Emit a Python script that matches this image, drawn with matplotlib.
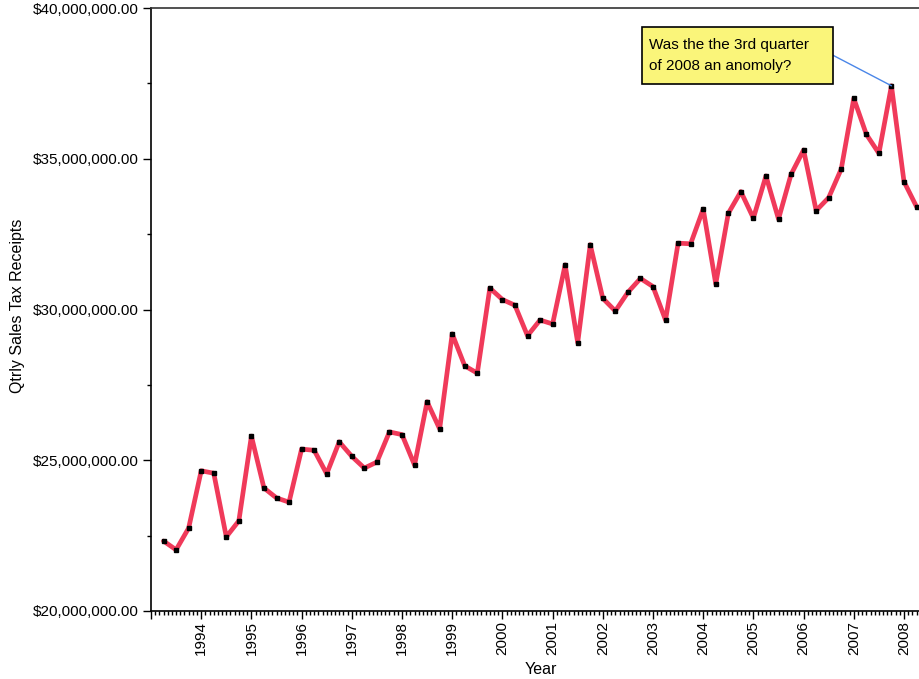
import matplotlib
matplotlib.use("Agg")
import matplotlib.pyplot as plt
import matplotlib.ticker as mticker
from matplotlib.patches import Rectangle
import numpy as np

plt.rcParams['font.family'] = ['Liberation Sans', 'DejaVu Sans']

# Quarterly sales tax receipts (millions of dollars), first quarter plotted at 1993.25
start_year = 1993.25
receipts_m = [
    22.32, 22.03, 22.75, 24.65, 24.57, 22.46, 22.99, 25.80, 24.08, 23.75,
    23.61, 25.37, 25.33, 24.55, 25.61, 25.13, 24.74, 24.94, 25.94, 25.85,
    24.84, 26.94, 26.04, 29.19, 28.13, 27.89, 30.71, 30.33, 30.14, 29.13,
    29.65, 29.52, 31.48, 28.90, 32.15, 30.37, 29.95, 30.57, 31.03, 30.76,
    29.65, 32.20, 32.18, 33.33, 30.85, 33.19, 33.91, 33.03, 34.43, 33.00,
    34.48, 35.29, 33.28, 33.71, 34.66, 37.00, 35.81, 35.18, 37.42, 34.24,
    33.41,
]
years = np.array([start_year + 0.25 * i for i in range(len(receipts_m))])
values = np.array(receipts_m) * 1e6
year_ticks = list(range(1993, 2009))
annot_index = 58
annot_text = "Was the the 3rd quarter\nof 2008 an anomoly?"

W, H = 919, 679
fig = plt.figure(figsize=(W / 100, H / 100), dpi=100)
ax_left, ax_right_px = 151, 151 + 16 * 50.2
ax_top, ax_bot = 8, 611
ax = fig.add_axes([ax_left / W, (H - ax_bot) / H, (ax_right_px - ax_left) / W, (ax_bot - ax_top) / H])

ax.plot(years, values, color='#F03A5A', linewidth=3.4, solid_joinstyle='round', solid_capstyle='round',
        marker='s', markersize=3.2, markerfacecolor='black', markeredgecolor='black', zorder=3)

ax.set_xlim(1993, 2009)
ax.set_ylim(20e6, 40e6)

ax.xaxis.set_major_locator(mticker.FixedLocator(year_ticks))
ax.xaxis.set_major_formatter(mticker.FuncFormatter(lambda v, p: '' if int(round(v)) == 1993 else str(int(round(v)))))
ax.xaxis.set_minor_locator(mticker.MultipleLocator(1 / 12))
ax.yaxis.set_major_locator(mticker.MultipleLocator(5e6))
ax.yaxis.set_minor_locator(mticker.MultipleLocator(2.5e6))
ax.yaxis.set_major_formatter(mticker.FuncFormatter(lambda v, p: '${:,.2f}'.format(v)))

ax.tick_params(axis='x', which='major', direction='out', length=6, width=1, pad=1.5, labelsize=11, labelrotation=90)
ax.tick_params(axis='x', which='minor', direction='out', length=3.2, width=1)
ax.tick_params(axis='y', which='major', direction='out', length=6, width=1, pad=3, labelsize=11)
ax.tick_params(axis='y', which='minor', direction='out', length=3.2, width=1)

for s in ['left', 'bottom']:
    ax.spines[s].set_color('black')
    ax.spines[s].set_linewidth(1.2)
ax.spines['top'].set_color('#333333')
ax.spines['top'].set_linewidth(1.2)
ax.spines['right'].set_visible(False)

fig.text(541 / W, (H - 669) / H, 'Year', ha='center', va='center', fontsize=11.5)
fig.text(18 / W, (H - 306) / H, 'Qtrly Sales Tax Receipts', ha='center', va='center', rotation=90, fontsize=11.5)

# annotation box
bx0, by0, bx1, by1 = 641.5, 27, 832.5, 84
rect = Rectangle((bx0 / W, (H - by1) / H), (bx1 - bx0) / W, (by1 - by0) / H,
                 transform=fig.transFigure, facecolor='#FAF57A', edgecolor='black', linewidth=1.2, zorder=5)
fig.patches.append(rect)
fig.text(649 / W, (H - 55.5) / H, annot_text, ha='left', va='center', fontsize=11, linespacing=1.55, zorder=6)
ax.annotate('', xy=(years[annot_index], values[annot_index]), xycoords='data',
            xytext=(bx1, H - 55), textcoords='figure pixels',
            arrowprops=dict(arrowstyle='-', color='#4A86E8', linewidth=1, shrinkA=0, shrinkB=0), zorder=4)

fig.savefig('out.png', dpi=100)
